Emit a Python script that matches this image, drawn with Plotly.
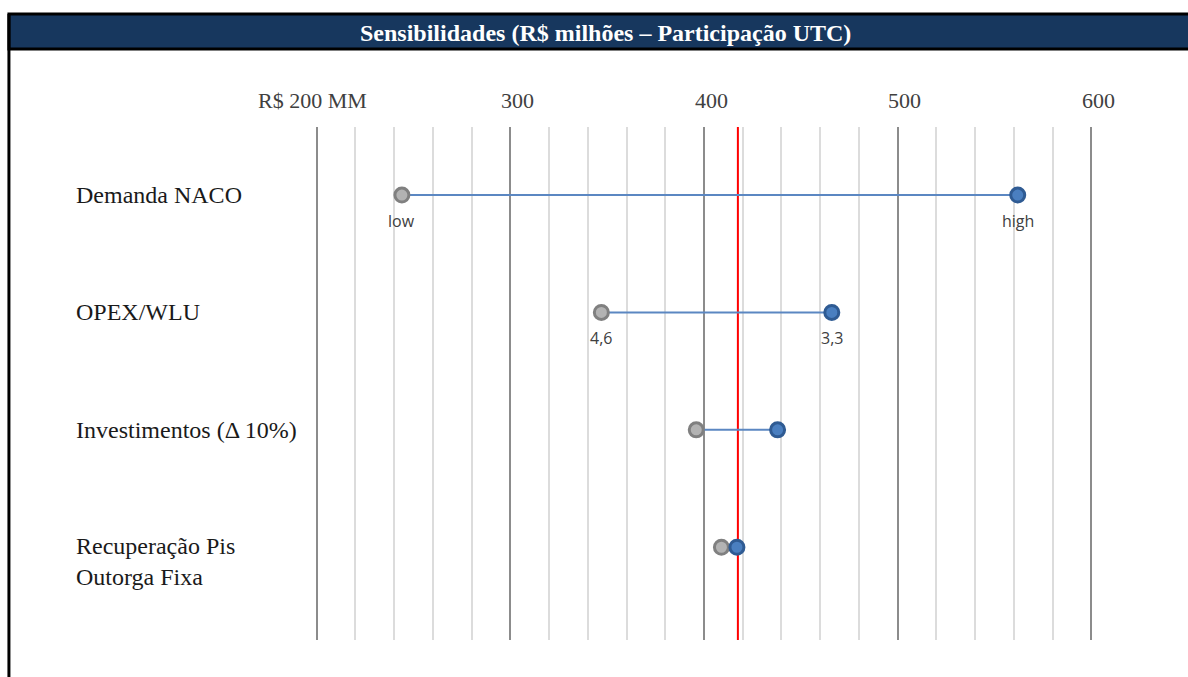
import plotly.graph_objects as go

# ---------------- data ----------------
categories = ["Demanda NACO", "OPEX/WLU", "Investimentos (Δ 10%)", "Recuperação Pis<br>Outorga Fixa"]
low_values = [244, 347, 396, 409]
high_values = [562, 466, 438, 417]
low_labels = ["low", "4,6", "", ""]
high_labels = ["high", "3,3", "", ""]
base_value = 417.5
tick_vals = [200, 300, 400, 500, 600]
tick_text = ["R$ 200 MM", "300", "400", "500", "600"]
title_text = "Sensibilidades (R$ milhões – Participação UTC)"

# ---------------- layout geometry (pixels) ----------------
W, H = 1188, 677
X0, X1 = 195, 605          # axis range (slightly padded so edge gridlines show)
PXU = 774 / 400            # pixels per unit
L = 317 - (200 - X0) * PXU
R = W - (1091 + (X1 - 600) * PXU)
T, B = 127, 37
PW, PH = W - L - R, H - T - B


def px_x(p):
    return (p - L) / PW


def px_y(p):
    return (H - B - p) / PH


rows = list(range(len(categories)))

fig = go.Figure()

# connecting lines
for i in rows:
    fig.add_trace(go.Scatter(
        x=[low_values[i], high_values[i]], y=[i, i], mode="lines",
        line=dict(color="#5b87c2", width=2), hoverinfo="skip", showlegend=False))

# low markers
fig.add_trace(go.Scatter(
    x=low_values, y=rows, mode="markers",
    marker=dict(size=14, color="#b3b3b3", line=dict(color="#808080", width=3)),
    showlegend=False))
# high markers
fig.add_trace(go.Scatter(
    x=high_values, y=rows, mode="markers",
    marker=dict(size=14, color="#4a7fc0", line=dict(color="#2f5b93", width=3)),
    showlegend=False))

annotations = []
# point labels
for i in rows:
    for val, lab in ((low_values[i], low_labels[i]), (high_values[i], high_labels[i])):
        if lab:
            annotations.append(dict(
                x=val, y=i, xref="x", yref="y", text=lab, showarrow=False,
                yshift=-26, xanchor="center", yanchor="middle",
                font=dict(family="Open Sans", size=16, color="#404040")))

# category labels
for i, cat in enumerate(categories):
    nlines = cat.count("<br>") + 1
    annotations.append(dict(
        x=px_x(75), y=i, xref="paper", yref="y", text=cat, showarrow=False,
        xanchor="left", yanchor="middle", align="left",
        yshift=-14 * (nlines - 1),
        font=dict(family="Liberation Serif", size=24, color="#1a1a1a")))

# axis tick labels (top)
for j, (tv, tt) in enumerate(zip(tick_vals, tick_text)):
    annotations.append(dict(
        x=tv, y=px_y(100), xref="x", yref="paper", text=tt, showarrow=False,
        xanchor="center", yanchor="middle", xshift=(-4 if j == 0 else 7),
        font=dict(family="Liberation Serif", size=22, color="#404040")))

# title
annotations.append(dict(
    x=px_x(606), y=px_y(33), xref="paper", yref="paper",
    text="<b>" + title_text + "</b>", showarrow=False,
    xanchor="center", yanchor="middle",
    font=dict(family="Liberation Serif", size=24, color="white")))

shapes = [
    # title bar
    dict(type="rect", xref="paper", yref="paper",
         x0=px_x(9.5), x1=px_x(1200), y0=px_y(49), y1=px_y(14),
         fillcolor="#17375e", line=dict(color="black", width=3), layer="above"),
    # left border
    dict(type="line", xref="paper", yref="paper",
         x0=px_x(9.5), x1=px_x(9.5), y0=px_y(14), y1=px_y(700),
         line=dict(color="black", width=3), layer="above"),
    # base value line
    dict(type="line", xref="x", yref="paper",
         x0=base_value, x1=base_value, y0=0, y1=1,
         line=dict(color="#ff0000", width=2), layer="between"),
]

fig.update_layout(
    width=W, height=H,
    margin=dict(l=L, r=R, t=T, b=B),
    paper_bgcolor="white", plot_bgcolor="white",
    annotations=annotations, shapes=shapes,
    showlegend=False,
    xaxis=dict(
        range=[X0, X1], side="top",
        tickvals=tick_vals, showticklabels=False,
        showgrid=True, gridcolor="#8c8c8c", gridwidth=2,
        minor=dict(dtick=20, tick0=200, showgrid=True, gridcolor="#dcdcdc", gridwidth=2),
        ticks="", zeroline=False, showline=False,
    ),
    yaxis=dict(
        range=[3.79, -0.58], showgrid=False, zeroline=False,
        showticklabels=False, ticks="", showline=False,
    ),
)

fig.write_html("out.html")
